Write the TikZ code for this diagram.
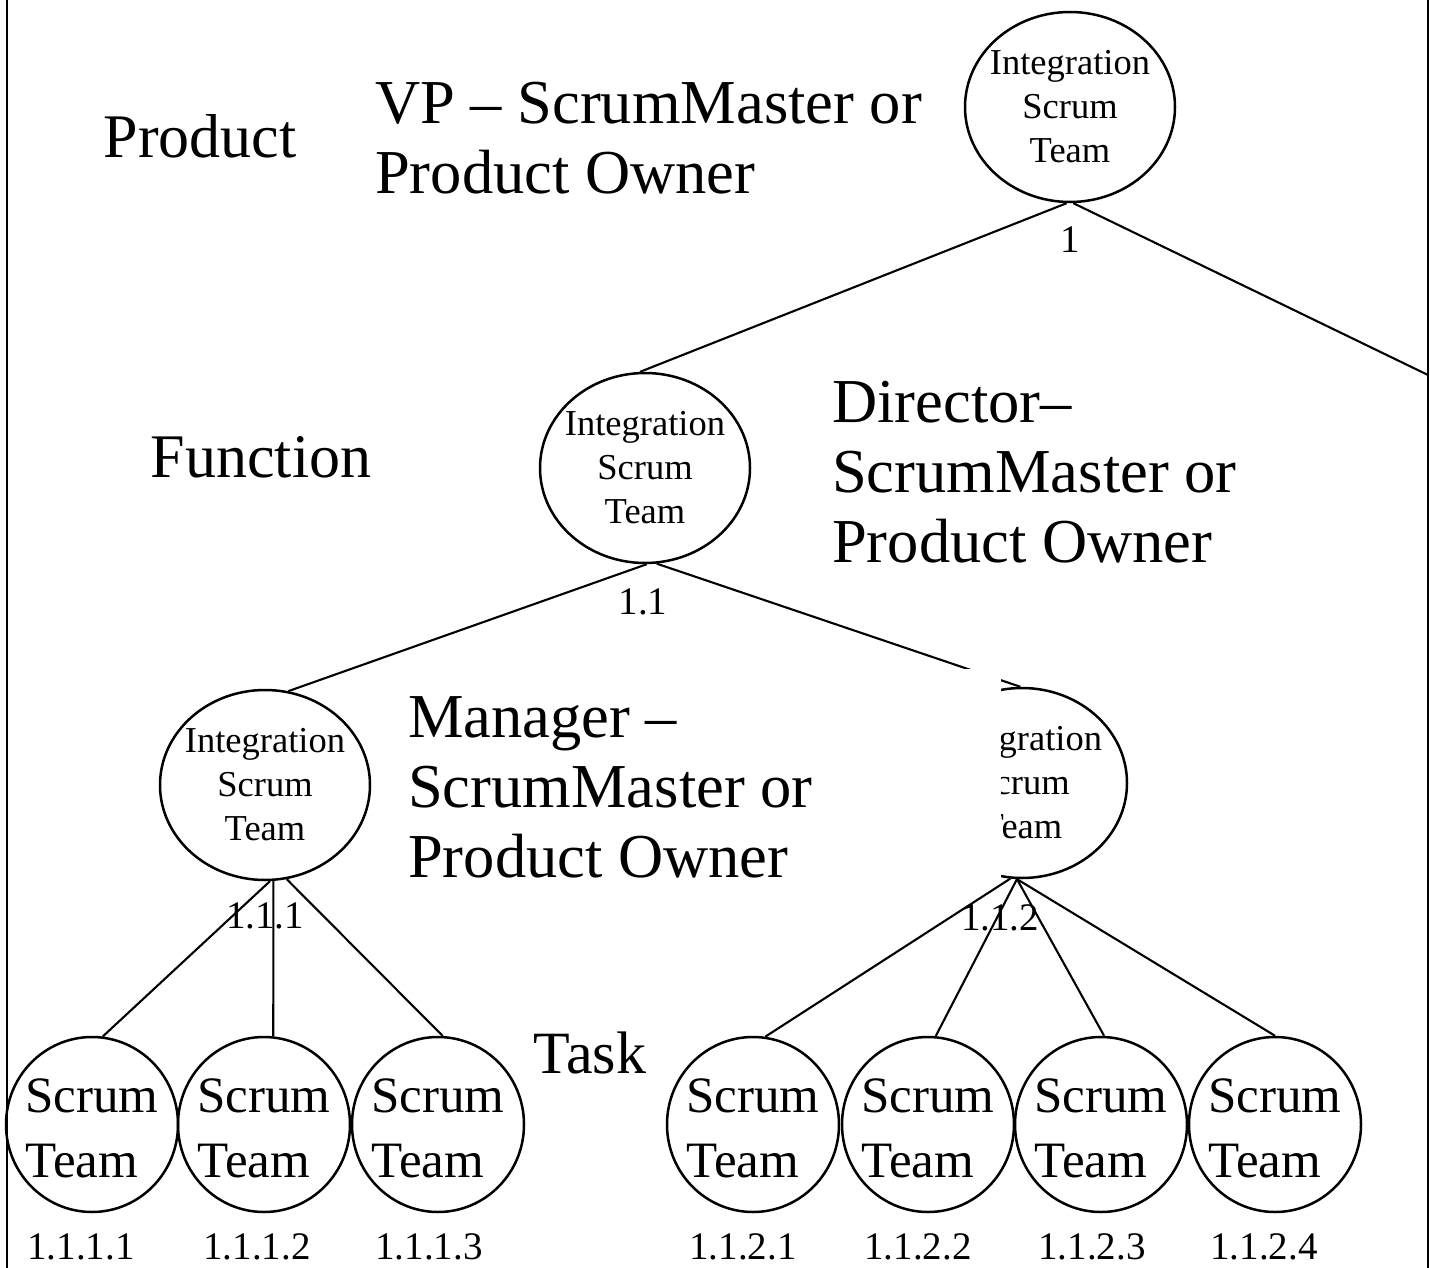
\documentclass[tikz,border=0pt]{standalone}
\usepackage{fontspec}
\setmainfont{Liberation Serif}
\usetikzlibrary{shapes.geometric}
\tikzset{
  team/.style={ellipse, draw, line width=2.5pt, minimum width=210pt, minimum height=190pt, inner sep=0pt},
  leaf/.style={ellipse, draw, line width=2.5pt, minimum width=172pt, minimum height=175pt, inner sep=0pt},
  link/.style={line width=2.1pt},
  frame/.style={line width=2.2pt},
  role/.style={font=\fontsize{62.5}{70}\selectfont, inner sep=0pt, align=left, anchor=north west},
  level/.style={font=\fontsize{62}{70}\selectfont, inner sep=0pt, anchor=base},
  num/.style={font=\fontsize{39}{44}\selectfont, inner sep=0pt},
  inttext/.style={font=\fontsize{36.5}{44}\selectfont, align=center, inner sep=0pt},
  leaftext/.style={font=\fontsize{51}{65}\selectfont, align=left, inner sep=0pt, yshift=-4pt},
}
\begin{document}
\begin{tikzpicture}[x=1pt,y=-1pt]
\useasboundingbox (0,0) rectangle (1430,1268);
\fill[white] (0,0) rectangle (1430,1268);

% side rules
\coordinate (lt) at (7,0);
\coordinate (lb) at (7,1268);
\coordinate (rt) at (1428,0);
\coordinate (rb) at (1428,1268);
\draw[frame] (lt) -- (lb);
\draw[frame] (rt) -- (rb);

% level names
\node[level] (lvP) at (200,158) {Product};
\node[level] (lvF) at (261,477) {Function};
\node[level, font=\fontsize{60}{70}\selectfont] (lvT) at (590,1073) {Task};

% integration teams
\node[team, label={[inttext]center:{Integration\\Scrum\\Team}}] (p) at (1070,107) {};
\node[team, label={[inttext]center:{Integration\\Scrum\\Team}}] (f) at (645,468) {};
\node[team, label={[inttext]center:{Integration\\Scrum\\Team}}] (m1) at (265,785) {};
\node[team, label={[inttext]center:{Integration\\Scrum\\Team}}] (m2) at (1022,783) {};

% scrum teams
\foreach \n/\x in {a/92,b/264,c/438,d/753,e/928,g/1101,h/1275}{
  \node[leaf, label={[leaftext]center:{Scrum\\Team}}] (t\n) at (\x,1124.5) {};
}

% numbering
\node[num] (n1) at (1070,240) {1};
\node[num] (n11) at (643,602) {1.1};
\node[num] (n111) at (265,916) {1.1.1};
\node[num] (n112) at (1000,918) {1.1.2};
\node[num] (na) at (81,1247) {1.1.1.1};
\node[num] (nb) at (257,1247) {1.1.1.2};
\node[num] (nc) at (429,1247) {1.1.1.3};
\node[num] (nd) at (743,1247) {1.1.2.1};
\node[num] (ne) at (918,1247) {1.1.2.2};
\node[num] (ng) at (1092,1247) {1.1.2.3};
\node[num] (nh) at (1264,1247) {1.1.2.4};

% hierarchy links
\coordinate (exitR) at (1428,375);
\draw[link] (p.-92) -- (f.93);
\draw[link] (p.-88) -- (exitR);
\draw[link] (f.-89) -- (m1.76);
\draw[link] (f.-83) -- (m2.91);
\draw[link] (m1.-87) -- (ta.83);
\draw[link] (m1.-85) -- (tb.84);
\draw[link] (m1.-77) -- (tc.87);
\draw[link] (m2.-97) -- (td.82);
\draw[link] (m2.-93) -- (te.85);
\draw[link] (m2.-93) -- (tg.88);
\draw[link] (m2.-93) -- (th.90);

% white text panel over the manager level
\node[fill=white, inner sep=0pt, minimum width=621pt, minimum height=212pt, anchor=north west] (panel) at (380,669) {};

% role captions
\node[role] (vp) at (375,82) {VP -- ScrumMaster or\\Product Owner};
\node[role] (dir) at (832,381) {Director--\\ScrumMaster or\\Product Owner};
\node[role] (mgr) at (408,696) {Manager --\\ScrumMaster or\\Product Owner};
\end{tikzpicture}
\end{document}
